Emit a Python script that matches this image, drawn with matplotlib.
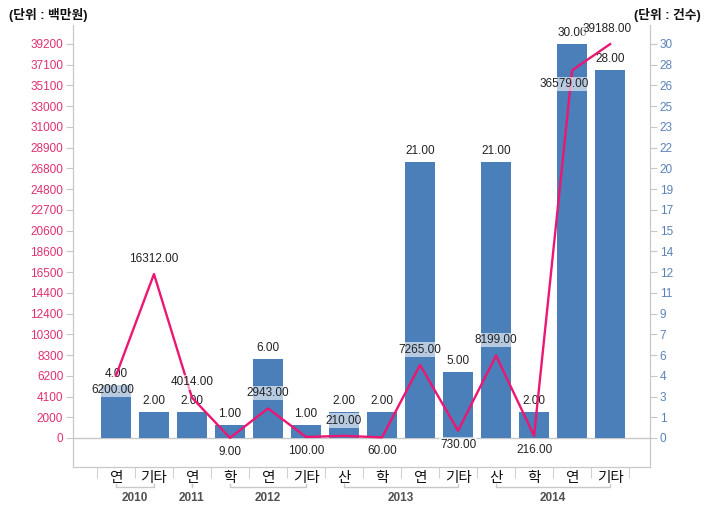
import matplotlib
matplotlib.use("Agg")
import matplotlib.pyplot as plt
import matplotlib.transforms as mtransforms

plt.rcParams["font.family"] = ["Liberation Sans", "Noto Sans CJK KR", "DejaVu Sans"]

# data
categories = ["연", "기타", "연", "학", "연", "기타", "산", "학", "연", "기타", "산", "학", "연", "기타"]
years = ["2010", "2011", "2012", "2013", "2014"]
year_sizes = [2, 1, 3, 4, 4]
counts = [4, 2, 2, 1, 6, 1, 2, 2, 21, 5, 21, 2, 30, 28]
amounts = [6200, 16312, 4014, 9, 2943, 100, 210, 60, 7265, 730, 8199, 216, 36579, 39188]
left_tick_labels = ["0", "2000", "4100", "6200", "8300", "10300", "12400", "14400", "16500",
                    "18600", "20600", "22700", "24800", "26800", "28900", "31000", "33000",
                    "35100", "37100", "39200"]
right_tick_labels = ["0", "1", "3", "4", "6", "7", "9", "11", "12", "14", "15", "17", "19",
                     "20", "22", "23", "25", "26", "28", "30"]
left_max = 39200
right_max = 30

# label placement for the line values (x, y offsets in points)
amount_offsets = [(-2, -10), (0, 11), (0, 11), (0, -10), (0, 11), (0, -10), (0, 11),
                  (0, -10), (0, 11), (0, -10), (0, 11), (0, -10), (-6, -10), (-2, 11)]

bar_color = "#4a7fb9"
line_color = "#ec1673"
pink = "#e0306f"
blue_txt = "#5b82b8"
grid_gray = "#c8c8c8"

fig = plt.figure(figsize=(7.11, 5.16), dpi=100)
ax = fig.add_axes([0.1027, 0.0950, 0.8115, 0.8566])
ax2 = ax.twinx()

x = list(range(len(categories)))
ax.bar(x, counts, width=0.77, color=bar_color, zorder=2)
ax.set_xlim(-1.13, 14.05)
ax.set_ylim(-29 * right_max / 394, 413 * right_max / 394)
ax2.set_ylim(-29 * left_max / 394, 413 * left_max / 394)

ax.axhline(0, color=grid_gray, lw=1, zorder=1)

ax2.plot(x, amounts, color=line_color, lw=1.7, zorder=3)

# bar value labels
for xi, c in zip(x, counts):
    ax.annotate(f"{c:.2f}", (xi, c), xytext=(0, 8), textcoords="offset points",
                ha="center", va="center", fontsize=8.5, color="#222222", zorder=5)

# line value labels
for xi, a, off in zip(x, amounts, amount_offsets):
    ax2.annotate(f"{a:.2f}", (xi, a), xytext=off, textcoords="offset points",
                 ha="center", va="center", fontsize=8.5, color="#222222", zorder=6,
                 bbox=dict(boxstyle="square,pad=0.1", fc="white", ec="none", alpha=0.6))

# axes styling
ax.yaxis.tick_right()
ax2.yaxis.tick_left()
n = len(left_tick_labels)
ax.set_yticks([i * right_max / (n - 1) for i in range(n)])
ax.set_yticklabels(right_tick_labels)
ax2.set_yticks([i * left_max / (n - 1) for i in range(n)])
ax2.set_yticklabels(left_tick_labels)
ax.tick_params(axis="y", colors=grid_gray, labelcolor=blue_txt, labelsize=8.5, length=5, pad=2)
ax2.tick_params(axis="y", colors=grid_gray, labelcolor=pink, labelsize=8.5, length=5, pad=2)

for a in (ax, ax2):
    a.spines["top"].set_visible(False)
    for s in ("left", "right", "bottom"):
        a.spines[s].set_color(grid_gray)

ax.set_xticks(x)
ax.set_xticklabels(categories, fontsize=10.5, color="#111111")
ax.set_xticks([i - 0.5 for i in range(len(categories) + 1)], minor=True)
ax.tick_params(axis="x", which="major", length=0, pad=3)
ax.tick_params(axis="x", which="minor", length=8, color=grid_gray)

# year brackets
trans = mtransforms.blended_transform_factory(ax.transData, ax.transAxes)
bracket_y = -20 / 442
hook = 3 / 442
start = 0
for yr, size in zip(years, year_sizes):
    x0, x1 = start, start + size - 1
    ax.plot([x0, x0, x1, x1], [bracket_y + hook, bracket_y, bracket_y, bracket_y + hook],
            transform=trans, color=grid_gray, lw=1, clip_on=False)
    ax.text((x0 + x1) / 2, -31 / 442, yr, transform=trans, ha="center", va="center",
            fontsize=8.5, fontweight="bold", color="#505050")
    start += size

fig.text(9 / 711, 1 - 15 / 516, "(단위 : 백만원)", ha="left", va="center",
         fontsize=9.2, fontweight="bold", color="#111111")
fig.text(701 / 711, 1 - 15 / 516, "(단위 : 건수)", ha="right", va="center",
         fontsize=9.2, fontweight="bold", color="#111111")

fig.savefig("out.png", dpi=100)
